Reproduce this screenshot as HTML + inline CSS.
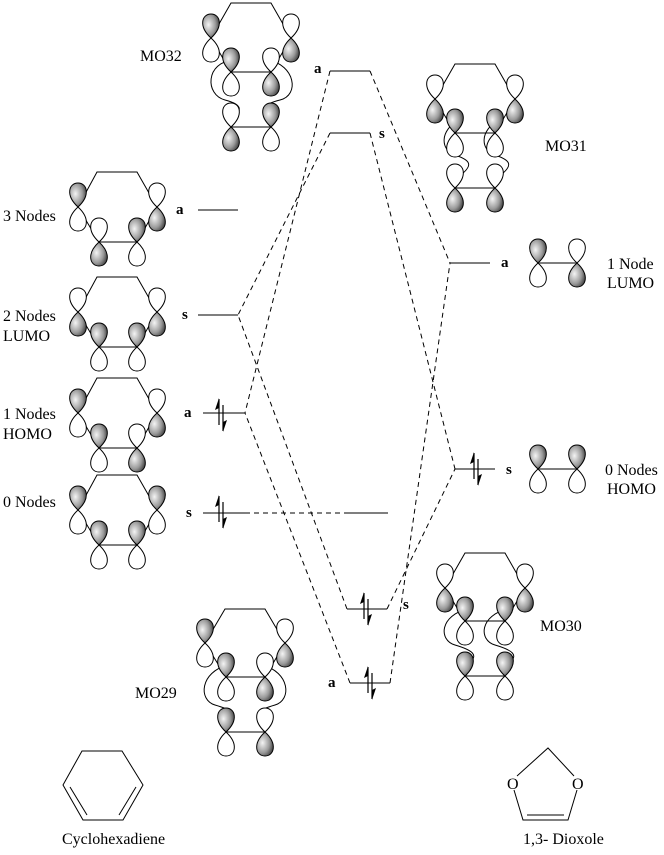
<!DOCTYPE html>
<html><head><meta charset="utf-8"><style>
html,body{margin:0;padding:0;background:#fff;}
svg{display:block;}
text{font-family:"Liberation Serif","Times New Roman",serif;font-size:16px;fill:#000;}
.b{font-weight:bold;font-size:15px;}
</style></head><body>
<svg width="664" height="855" viewBox="0 0 664 855" xmlns="http://www.w3.org/2000/svg" font-family="Liberation Serif, Times New Roman, serif">
<defs>
<radialGradient id="g" cx="0.35" cy="0.45" r="0.7">
<stop offset="0" stop-color="#f4f4f4"/><stop offset="0.6" stop-color="#9a9a9a"/><stop offset="1" stop-color="#3a3a3a"/>
</radialGradient>
<path id="uw" d="M0,0 C-13,-12 -9,-24 0,-24 C9,-24 13,-12 0,0Z" fill="#fff" stroke="#000" stroke-width="1"/>
<path id="us" d="M0,0 C-13,-12 -9,-24 0,-24 C9,-24 13,-12 0,0Z" fill="url(#g)" stroke="#000" stroke-width="1"/>
<path id="dw" d="M0,0 C-13,12 -9,24 0,24 C9,24 13,12 0,0Z" fill="#fff" stroke="#000" stroke-width="1"/>
<path id="ds" d="M0,0 C-13,12 -9,24 0,24 C9,24 13,12 0,0Z" fill="url(#g)" stroke="#000" stroke-width="1"/>
<g id="ea">
<line x1="-2" y1="13" x2="-2" y2="-13" stroke="#000" stroke-width="1.2"/>
<path d="M-2,-14 L-6,-2 L-2,-4Z" fill="#000"/>
<line x1="2" y1="-7" x2="2" y2="19" stroke="#000" stroke-width="1.2"/>
<path d="M2,20 L6,8 L2,10Z" fill="#000"/>
</g>
</defs>

<g stroke="#000" stroke-width="1" fill="none">
<path d="M97,172 H137 L157,207 L137,242 H99 L78,207 Z"/>
<path d="M97,277 H137 L157,312 L137,347 H99 L78,312 Z"/>
<path d="M97,378 H137 L157,413 L137,448 H99 L78,413 Z"/>
<path d="M97,475 H137 L157,510 L137,545 H99 L78,510 Z"/>
</g>
<use href="#us" x="78" y="207"/><use href="#dw" x="78" y="207"/>
<use href="#uw" x="99" y="242"/><use href="#ds" x="99" y="242"/>
<use href="#us" x="137" y="242"/><use href="#dw" x="137" y="242"/>
<use href="#uw" x="157" y="207"/><use href="#ds" x="157" y="207"/>
<use href="#uw" x="78" y="312"/><use href="#ds" x="78" y="312"/>
<use href="#us" x="99" y="347"/><use href="#dw" x="99" y="347"/>
<use href="#us" x="137" y="347"/><use href="#dw" x="137" y="347"/>
<use href="#uw" x="157" y="312"/><use href="#ds" x="157" y="312"/>
<use href="#us" x="78" y="413"/><use href="#dw" x="78" y="413"/>
<use href="#us" x="99" y="448"/><use href="#dw" x="99" y="448"/>
<use href="#uw" x="137" y="448"/><use href="#ds" x="137" y="448"/>
<use href="#uw" x="157" y="413"/><use href="#ds" x="157" y="413"/>
<use href="#us" x="78" y="510"/><use href="#dw" x="78" y="510"/>
<use href="#us" x="99" y="545"/><use href="#dw" x="99" y="545"/>
<use href="#us" x="137" y="545"/><use href="#dw" x="137" y="545"/>
<use href="#us" x="157" y="510"/><use href="#dw" x="157" y="510"/>

<!-- MO32 -->
<g stroke="#000" stroke-width="1" fill="none">
<path d="M231,3 H271 L291,38 L271,72 H231 L211,38 Z"/>
<line x1="231" y1="127" x2="271" y2="127"/>
<path d="M234,60 C205,62 205,95 225,100 S240,112 234,116"/>
<path d="M268,60 C295,65 300,95 280,100 S260,112 268,116"/>
</g>
<use href="#us" x="211" y="38"/><use href="#dw" x="211" y="38"/>
<use href="#uw" x="291" y="38"/><use href="#ds" x="291" y="38"/>
<use href="#us" x="231" y="72"/><use href="#dw" x="231" y="72"/>
<use href="#uw" x="271" y="72"/><use href="#ds" x="271" y="72"/>
<use href="#uw" x="231" y="127"/><use href="#ds" x="231" y="127"/>
<use href="#us" x="271" y="127"/><use href="#dw" x="271" y="127"/>

<!-- MO31 -->
<g stroke="#000" stroke-width="1" fill="none">
<path d="M455,64 H495 L515,99 L495,133 H455 L435,99 Z"/>
<line x1="455" y1="188" x2="495" y2="188"/>
<path d="M458,121 C440,130 440,150 455,155 S475,165 458,177"/>
<path d="M498,121 C480,130 480,150 495,155 S515,165 498,177"/>
</g>
<use href="#uw" x="435" y="99"/><use href="#ds" x="435" y="99"/>
<use href="#uw" x="515" y="99"/><use href="#ds" x="515" y="99"/>
<use href="#us" x="455" y="133"/><use href="#dw" x="455" y="133"/>
<use href="#us" x="495" y="133"/><use href="#dw" x="495" y="133"/>
<use href="#uw" x="455" y="188"/><use href="#ds" x="455" y="188"/>
<use href="#uw" x="495" y="188"/><use href="#ds" x="495" y="188"/>

<!-- MO30 -->
<g stroke="#000" stroke-width="1" fill="none">
<path d="M465,553 H505 L525,588 L505,621 H465 L445,588 Z"/>
<line x1="465" y1="676" x2="505" y2="676"/>
<path d="M468,609 C440,615 438,640 455,645 S480,655 468,664"/>
<path d="M508,609 C480,615 478,640 495,645 S520,655 508,664"/>
</g>
<use href="#uw" x="445" y="588"/><use href="#ds" x="445" y="588"/>
<use href="#uw" x="525" y="588"/><use href="#ds" x="525" y="588"/>
<use href="#us" x="465" y="621"/><use href="#dw" x="465" y="621"/>
<use href="#us" x="505" y="621"/><use href="#dw" x="505" y="621"/>
<use href="#us" x="465" y="676"/><use href="#dw" x="465" y="676"/>
<use href="#us" x="505" y="676"/><use href="#dw" x="505" y="676"/>

<!-- MO29 -->
<g stroke="#000" stroke-width="1" fill="none">
<path d="M225,609 H265 L285,643 L265,677 H226 L205,643 Z"/>
<line x1="226" y1="732" x2="265" y2="732"/>
<path d="M228,665 C200,672 198,700 215,705 S235,712 228,720"/>
<path d="M262,665 C290,672 292,700 275,705 S255,712 262,720"/>
</g>
<use href="#us" x="205" y="643"/><use href="#dw" x="205" y="643"/>
<use href="#uw" x="285" y="643"/><use href="#ds" x="285" y="643"/>
<use href="#us" x="226" y="677"/><use href="#dw" x="226" y="677"/>
<use href="#uw" x="265" y="677"/><use href="#ds" x="265" y="677"/>
<use href="#us" x="226" y="732"/><use href="#dw" x="226" y="732"/>
<use href="#uw" x="265" y="732"/><use href="#ds" x="265" y="732"/>

<line x1="538" y1="263" x2="577" y2="263" stroke="#555" stroke-width="1.5"/>
<use href="#us" x="538" y="263"/><use href="#dw" x="538" y="263"/>
<use href="#uw" x="577" y="263"/><use href="#ds" x="577" y="263"/>
<line x1="538" y1="469" x2="577" y2="469" stroke="#555" stroke-width="1.5"/>
<use href="#us" x="538" y="469"/><use href="#dw" x="538" y="469"/>
<use href="#us" x="577" y="469"/><use href="#dw" x="577" y="469"/>

<g stroke="#555" stroke-width="1.5">
<line x1="330" y1="71" x2="370" y2="71"/>
<line x1="330" y1="133" x2="370" y2="133"/>
<line x1="198" y1="210" x2="238" y2="210"/>
<line x1="198" y1="315" x2="238" y2="315"/>
<line x1="203" y1="413" x2="245" y2="413"/>
<line x1="203" y1="513" x2="245" y2="513"/>
<line x1="345" y1="513" x2="388" y2="513"/>
<line x1="450" y1="263" x2="490" y2="263"/>
<line x1="455" y1="469" x2="495" y2="469"/>
<line x1="347" y1="609" x2="387" y2="609"/>
<line x1="350" y1="683" x2="390" y2="683"/>
</g>
<g stroke="#000" stroke-width="1" stroke-dasharray="5,4" fill="none">
<line x1="245" y1="513" x2="345" y2="513"/>
<line x1="330" y1="71" x2="245" y2="413"/>
<line x1="370" y1="71" x2="450" y2="263"/>
<line x1="330" y1="133" x2="238" y2="315"/>
<line x1="370" y1="133" x2="455" y2="469"/>
<line x1="347" y1="609" x2="238" y2="315"/>
<line x1="387" y1="609" x2="455" y2="469"/>
<line x1="350" y1="683" x2="245" y2="413"/>
<line x1="390" y1="683" x2="450" y2="263"/>
</g>
<use href="#ea" x="221" y="412"/>
<use href="#ea" x="221" y="509"/>
<use href="#ea" x="476" y="466"/>
<use href="#ea" x="366" y="606"/>
<use href="#ea" x="370" y="680"/>

<text class="b" x="176" y="214">a</text>
<text class="b" x="182" y="319">s</text>
<text class="b" x="184" y="417">a</text>
<text class="b" x="186" y="517">s</text>
<text class="b" x="314" y="73">a</text>
<text class="b" x="379" y="138">s</text>
<text class="b" x="501" y="267">a</text>
<text class="b" x="506" y="474">s</text>
<text class="b" x="403" y="609">s</text>
<text class="b" x="328" y="687">a</text>

<text x="3" y="221">3 Nodes</text>
<text x="3" y="321">2 Nodes</text>
<text x="3" y="341">LUMO</text>
<text x="3" y="419">1 Nodes</text>
<text x="3" y="439">HOMO</text>
<text x="3" y="507">0 Nodes</text>
<text x="607" y="269">1 Node</text>
<text x="607" y="288">LUMO</text>
<text x="605" y="475">0 Nodes</text>
<text x="607" y="494">HOMO</text>
<text x="140" y="61">MO32</text>
<text x="545" y="151">MO31</text>
<text x="540" y="631">MO30</text>
<text x="135" y="698">MO29</text>
<text x="62" y="844">Cyclohexadiene</text>
<text x="523" y="844">1,3- Dioxole</text>

<g stroke="#000" stroke-width="1" fill="none">
<path d="M82,751 H122 L143,785 L123,820 H83 L63,785 Z"/>
<line x1="70" y1="787" x2="87" y2="815"/>
<line x1="136" y1="787" x2="119" y2="815"/>
</g>
<g stroke="#000" stroke-width="1" fill="none">
<path d="M517,776 L548,748 L574,776"/>
<path d="M514,790 L523,820 H568 L577,790"/>
<line x1="527" y1="815" x2="564" y2="815"/>
</g>
<text x="507" y="789">O</text>
<text x="572" y="789">O</text>
</svg>
</body></html>
